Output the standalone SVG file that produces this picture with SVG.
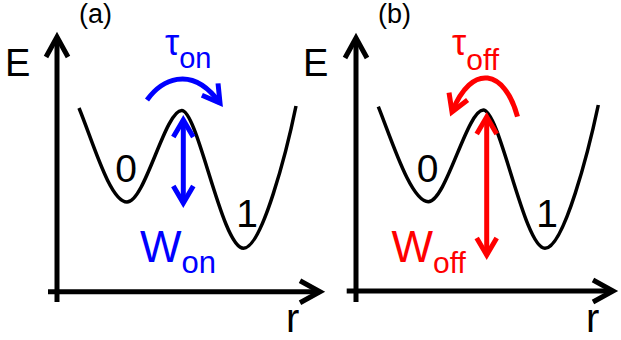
<svg xmlns="http://www.w3.org/2000/svg" width="621" height="340" viewBox="0 0 621 340">
<style>
text { font-family: "Liberation Sans", Arial, sans-serif; }
.lbl { fill: #000; }
.blue { fill: #0000FF; }
.red { fill: #FF0000; }
.axis { stroke: #000; stroke-width: 5; fill: none; }
.curve { stroke: #000; stroke-width: 3.5; fill: none; }
.barrow { stroke: #0000FF; stroke-width: 5; fill: none; }
.rarrow { stroke: #FF0000; stroke-width: 5; fill: none; }
</style>
<defs>
<marker id="axHead" markerUnits="userSpaceOnUse" orient="auto" refX="0" refY="0" markerWidth="30" markerHeight="30" overflow="visible">
<path d="M-20,-11 L0,0 L-20,11" stroke="#000" stroke-width="5" fill="none"/>
</marker>
<marker id="bHead" markerUnits="userSpaceOnUse" orient="auto-start-reverse" refX="0" refY="0" markerWidth="30" markerHeight="30" overflow="visible">
<path d="M-17,-10 L0,0 L-17,10" stroke="#0000FF" stroke-width="5" fill="none"/>
</marker>
<marker id="rHead" markerUnits="userSpaceOnUse" orient="auto-start-reverse" refX="0" refY="0" markerWidth="30" markerHeight="30" overflow="visible">
<path d="M-17,-10 L0,0 L-17,10" stroke="#FF0000" stroke-width="5" fill="none"/>
</marker>
</defs>

<g id="panel-a">
<g id="axes-a">
<line class="axis" x1="57" y1="302" x2="57" y2="37" marker-end="url(#axHead)"/>
<line class="axis" x1="48" y1="291.7" x2="320" y2="291.7" marker-end="url(#axHead)"/>
</g>
<g id="curve-a">
<path class="curve" d="M79,108 C93,142 110,202 127,202 C145,202 165,110.5 181.7,110.5 C198,110.5 222,248.3 243.5,248.3 C262,248.3 287,150 296,106"/>
</g>
<g id="labels-a">
<text class="lbl" x="5" y="76" font-size="38">E</text>
<text class="lbl" x="79" y="23" font-size="27">(a)</text>
<text class="lbl" x="126" y="182" font-size="39" text-anchor="middle">0</text>
<text class="lbl" x="247" y="227" font-size="39" text-anchor="middle">1</text>
<text class="lbl" x="286" y="332" font-size="40">r</text>
</g>
<g id="tau-on">
<path class="barrow" d="M147,100 C160,82 190,62 220,103" marker-end="url(#bHead)"/>
<text class="blue" x="165" y="55" font-size="36">τ<tspan font-size="29" dy="13">on</tspan></text>
</g>
<g id="w-on">
<line class="barrow" x1="183.3" y1="120" x2="183.3" y2="203" marker-start="url(#bHead)" marker-end="url(#bHead)"/>
<text class="blue" x="140" y="262" font-size="44">W<tspan font-size="31" dy="11">on</tspan></text>
</g>
</g>

<g id="panel-b">
<g id="axes-b">
<line class="axis" x1="356" y1="302" x2="356" y2="38" marker-end="url(#axHead)"/>
<line class="axis" x1="346.7" y1="291" x2="613" y2="291" marker-end="url(#axHead)"/>
</g>
<g id="curve-b">
<path class="curve" d="M378.3,106.7 C392,141 411,201.7 428.3,201.7 C446,201.7 467,110 483.3,110 C500,110 524,248.3 545,248.3 C564,248.3 589,149 598.3,105"/>
</g>
<g id="labels-b">
<text class="lbl" x="303" y="76" font-size="38">E</text>
<text class="lbl" x="378" y="23" font-size="27">(b)</text>
<text class="lbl" x="427.5" y="182" font-size="39" text-anchor="middle">0</text>
<text class="lbl" x="547" y="227" font-size="39" text-anchor="middle">1</text>
<text class="lbl" x="586" y="332" font-size="40">r</text>
</g>
<g id="tau-off">
<path class="rarrow" d="M517.5,116.7 C505,70 472,62 452,112" marker-end="url(#rHead)"/>
<text class="red" x="452" y="55" font-size="36">τ<tspan font-size="30" dy="15">off</tspan></text>
</g>
<g id="w-off">
<line class="rarrow" x1="486.7" y1="117" x2="486.7" y2="255" marker-start="url(#rHead)" marker-end="url(#rHead)"/>
<text class="red" x="391.5" y="262" font-size="44">W<tspan font-size="30" dy="11">off</tspan></text>
</g>
</g>
</svg>
